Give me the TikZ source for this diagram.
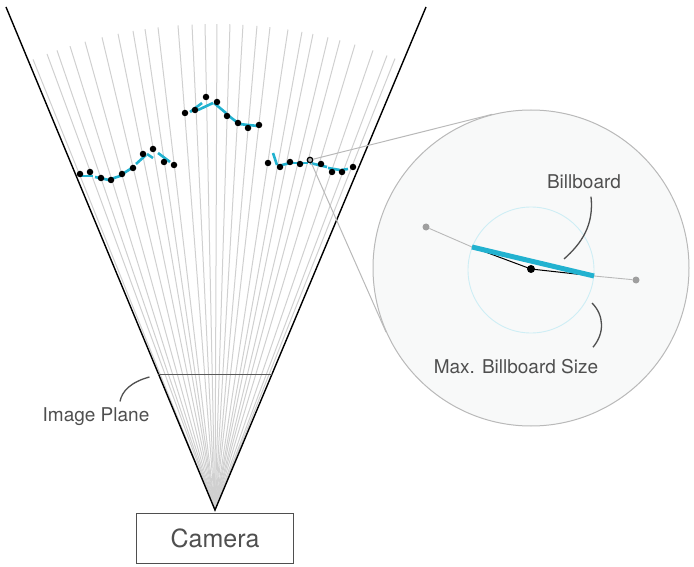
\documentclass[tikz,border=0pt]{standalone}
\usepackage{fontspec}
\setmainfont{TeX Gyre Heros}
\usepackage{xcolor}
\usetikzlibrary{calc,positioning}
\definecolor{bbcyan}{HTML}{22B2D0}
\definecolor{txtgray}{HTML}{4F4F4F}
\definecolor{raygray}{HTML}{D0D0D0}
\definecolor{zoomfill}{HTML}{F8F9F9}

\begin{document}
\begin{tikzpicture}[x=1pt,y=-1pt,
		ray/.style={raygray,line width=1pt},
		pt/.style={circle,fill=black,inner sep=0pt,minimum size=6.5pt},
		bb/.style={bbcyan,line width=2.6pt},
		lbl/.style={text=txtgray,font=\fontsize{19}{22}\selectfont},
		leader/.style={txtgray,line width=1.3pt}]
	\useasboundingbox (0,0) rectangle (694,567);
	% camera and frustum
	\node[draw=txtgray,line width=1pt,minimum width=157pt,minimum height=50pt,anchor=north,text=txtgray,font=\fontsize{25}{30}\selectfont] (camera) at (215,513) {Camera};
	\coordinate (apex) at (215,510);
	\coordinate (tl) at (6,7);\coordinate (tr) at (426,7);
	\foreach \x in {33,47,57,70,85,102,118,133,145,158,178,192,205,217,230,243,257,270,288,302,313,328,340,355,373,387,395}{
		\draw[ray](apex)--++({-90+asin((\x-215)/486)}:486);}
	\draw[line width=1.4pt](tl)--(apex)--(tr);
	\draw[black!65,line width=0.9pt]($(apex)!0.2704!(tl)$)coordinate(ipl)--($(apex)!0.2704!(tr)$)coordinate(ipr);
	% billboards
	\foreach \a/\b/\c/\d in {79/176/93/176,95/177/109/180,111/179/123/175,124/173/135/166,136/164/146/155,147/154/153/158,158/153/170/162,
		190/112/202/103,198/110/213/103,214/103/226/113,225/113/238/123,239/124/258/126,
		273/153/277/165,278/166/290/163,292/163/308/163,310/163/327/167,328/168/340/170,341/170/348/169}
		\draw[bb](\a,\b)--(\c,\d);
	% points
	\foreach \x/\y [count=\i] in {80/174,90/172,101/178,111/180,122/174,133/168,143/154,153/149,164/162,174/165}
		\node[pt] (a\i) at (\x,\y) {};
	\foreach \x/\y [count=\i] in {185/113,195/110,206/97,217/102,227/116,238/123,248/128,259/125}
		\node[pt] (b\i) at (\x,\y) {};
	\foreach \x/\y [count=\i] in {268/163,280/167,290/162,300/164,321/164,332/172,342/172,353/167}
		\node[pt] (c\i) at (\x,\y) {};
	\node[circle,draw=black,line width=1.2pt,fill=gray!60,inner sep=0pt,minimum size=5.5pt] (hp) at (310,160) {};
	% magnified view
	\node[circle,draw=gray!55,line width=1pt,fill=zoomfill,minimum size=316pt] (zoom) at (531,268) {};
	\draw[gray!55,line width=1pt](hp)--(tangent cs:node=zoom,point={(hp)},solution=1);
	\draw[gray!55,line width=1pt](hp)--(tangent cs:node=zoom,point={(hp)},solution=2);
	\node[circle,draw=bbcyan!22,line width=0.9pt,minimum size=126pt] (maxsize) at (531,270) {};
	\coordinate (bl) at (472,247);\coordinate (br) at (594,276);
	\node[circle,fill=gray!75,inner sep=0pt,minimum size=7pt] (ln) at (426,227) {};
	\node[circle,fill=gray!75,inner sep=0pt,minimum size=7pt] (rn) at (636,280) {};
	\draw[gray!55,line width=0.9pt](ln)--(bl) (br)--(rn);
	\draw[line width=1pt](bl)--(531,269)--(br);
	\draw[bbcyan,line width=5pt](bl)--(br);
	\node[circle,fill=black,inner sep=0pt,minimum size=8pt] (ctr) at (531,269) {};
	% labels
	\node[lbl] (bblbl) at (584,182) {Billboard};
	\coordinate (bbtip) at (564,259);
	\draw[leader]($(bblbl.south)+(7,4)$) .. controls (594,225) and (582,243) .. (bbtip);
	\node[lbl] (maxlbl) at (516,367) {Max. Billboard Size};
	\coordinate (maxtip) at (592,303);
	\draw[leader](maxtip) .. controls (604,315) and (605,333) .. ($(maxlbl.north)+(77,-9)$);
	\node[lbl] (iplbl) at (96,417) {Image Plane};
	\draw[leader]($(ipl)+(-9,3)$) .. controls (131,382) and (122,391) .. ($(iplbl.north)+(24,-3)$);
\end{tikzpicture}
\end{document}
